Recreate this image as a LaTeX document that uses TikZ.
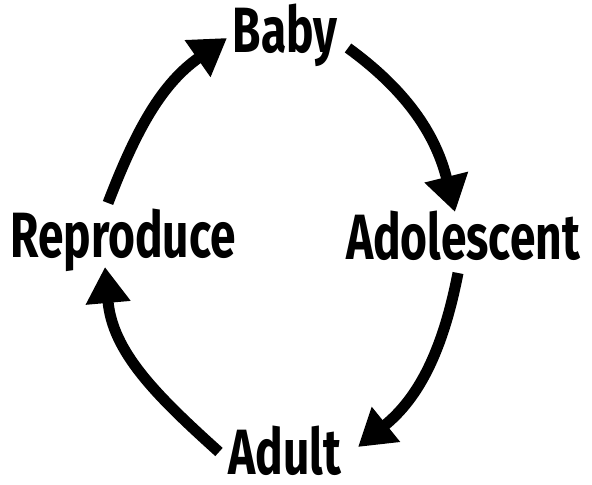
\documentclass[tikz,border=0pt]{standalone}
\usepackage{fontspec}
\newfontfamily\lblfont{Fira Sans}[FakeStretch=0.72]
\usetikzlibrary{arrows.meta}
\begin{document}
\begin{tikzpicture}[x=0.75pt,y=0.75pt,
  lbl/.style={anchor=base,inner sep=0pt,font=\lblfont\bfseries\fontsize{48pt}{48pt}\selectfont},
  cyc/.style={line width=8.25pt,-{Triangle[length=27pt,width=32pt]}}]
\useasboundingbox (0,0) rectangle (592,485);
\node[lbl] (baby) at (285,432) {Baby};
\node[lbl] (adol) at (463,225) {Adolescent};
\node[lbl] (repro) at (123,227) {Reproduce};
\node[lbl] (adult) at (285,11) {Adult};
\coordinate (s1) at (108,282);
\coordinate (e1) at (227,447);
\coordinate (s2) at (348,437);
\coordinate (e2) at (455,273);
\coordinate (s3) at (458,212);
\coordinate (e3) at (358,38);
\coordinate (s4) at (219,33);
\coordinate (e4) at (105,218);
\draw[cyc] (s1) to[out=69,in=215] (e1);
\draw[cyc] (s2) to[out=-36,in=104] (e2);
\draw[cyc] (s3) to[out=-101,in=39] (e3);
\draw[cyc] (s4) to[out=138,in=-85] (e4);
\end{tikzpicture}
\end{document}
